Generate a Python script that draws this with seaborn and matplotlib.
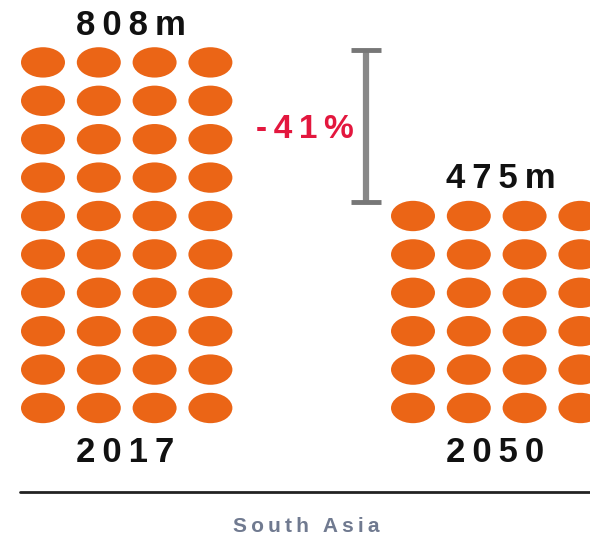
import numpy as np
import pandas as pd
import matplotlib
matplotlib.use("Agg")
import matplotlib.pyplot as plt
from matplotlib.path import Path
import seaborn as sns

# ---- data ----
years = ["2017", "2050"]
populations = [808, 475]          # millions
value_labels = ["808m", "475m"]
dot_counts = [40, 24]             # one dot ~ 20m people
change_label = "-41%"
region = "South Asia"

# ---- layout (pixel space) ----
W, H = 590, 542
n_cols = 4
col_step = 55.8
row_step = 38.4
grid_left = [43, 413]
grid_bottom = 408

rows = []
for g, (yr, n) in enumerate(zip(years, dot_counts)):
    for i in range(n):
        r = i // n_cols
        c = i % n_cols
        rows.append({"year": yr,
                     "x": grid_left[g] + c * col_step,
                     "y": grid_bottom - r * row_step})
df = pd.DataFrame(rows)

sns.set_theme(style="white")
plt.rcParams["font.family"] = ["Liberation Sans", "DejaVu Sans"]

fig = plt.figure(figsize=(W / 100, H / 100), dpi=100)
ax = fig.add_axes([0, 0, 1, 1])
ax.set_xlim(0, W)
ax.set_ylim(H, 0)
ax.axis("off")

circ = Path.unit_circle()
ell = Path(circ.vertices * np.array([1.0, 0.69]), circ.codes)
w_pt = 44 * 0.72
sns.scatterplot(data=df, x="x", y="y", marker=ell, s=w_pt ** 2,
                color="#EB6516", edgecolor="none", linewidth=0,
                legend=False, ax=ax)

txt = dict(fontsize=25, fontweight="bold", color="#111111",
           ha="center", va="center")
tops = [df[df.year == y].y.min() for y in years]
centers = [df[df.year == y].x.min() + 1.5 * col_step for y in years]
sp = "\u2009"
for g in range(2):
    ax.text(centers[g] + 4, tops[g] - 37, sp.join(value_labels[g]), **txt)
    ax.text(centers[g] - 2, grid_bottom + 44, sp.join(years[g]), **txt)

# change bracket
x_bar = 366
y_top, y_bot = tops[0] - 12, tops[1] - 14
ax.plot([x_bar, x_bar], [y_top, y_bot], color="#888888", lw=4.5,
        solid_capstyle="butt")
for yy in (y_top, y_bot):
    ax.plot([x_bar - 15, x_bar + 15], [yy, yy], color="#777777", lw=3.5,
            solid_capstyle="butt")
ax.text(305, 130, sp.join(change_label), fontsize=24, fontweight="bold",
        color="#E3173E", ha="center", va="center")

# baseline and region label
ax.plot([20, W], [492, 492], color="#222222", lw=2)
ax.text(306, 527, sp.join(region), fontsize=15, fontweight="bold",
        color="#707a90", ha="center", va="center")

fig.savefig("out.png", dpi=100)
